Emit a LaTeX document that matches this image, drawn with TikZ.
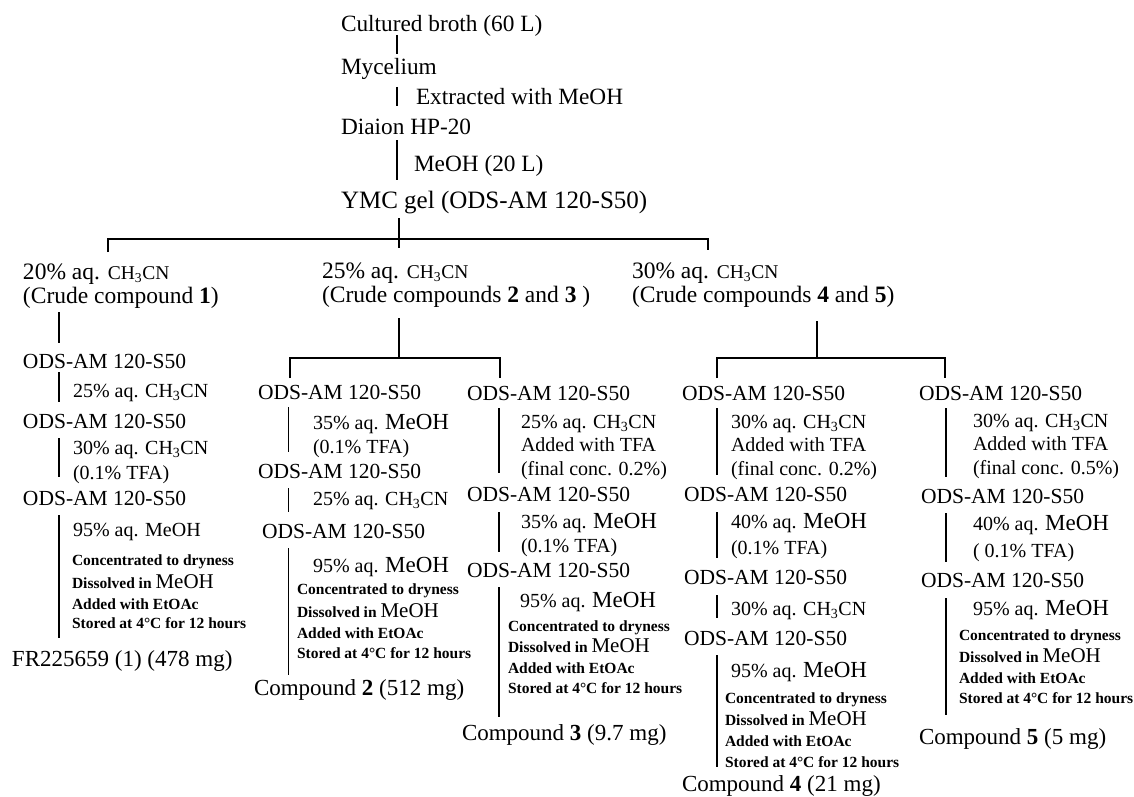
\documentclass[tikz,border=0pt]{standalone}
\usepackage{fontspec}
\setmainfont{Liberation Serif}
\usetikzlibrary{calc}
\newcommand\szTop{\fontsize{23.3}{26}\selectfont}
\newcommand\szYMC{\fontsize{25}{28}\selectfont}
\newcommand\szHead{\fontsize{23.5}{26}\selectfont}
\newcommand\szODS{\fontsize{21.5}{24}\selectfont}
\newcommand\szLab{\fontsize{20}{23}\selectfont}
\newcommand\szSmall{\fontsize{15.5}{18}\selectfont\bfseries}
\newcommand\szCmp{\fontsize{23}{26}\selectfont}
\newcommand\chcn{CH\textsubscript{3}CN}
\newcommand\hchcn{{\fontsize{19.5}{22}\selectfont CH\textsubscript{3}CN}}
\newcommand\bigmeoh{{\fontsize{23}{26}\selectfont MeOH}}
\newcommand\smeoh{{\mdseries\fontsize{21}{24}\selectfont MeOH}}
\newcommand\vlink[5]{\draw[conn] ($(#1.base -| #3)+(0,#4)$) -- ($(#2.base -| #3)+(0,-#5)$);}
\begin{document}
\begin{tikzpicture}[x=1pt,y=-1pt,
  txt/.style={anchor=base west,inner sep=0pt,outer sep=0pt},
  conn/.style={line width=1.7pt},
  brk/.style={line width=2pt}]
\fill[white] (0,0) rectangle (1134,797);
\useasboundingbox (0,0) rectangle (1134,797);
% column x positions
\coordinate (X0) at (397,0);
\coordinate (X1) at (59,0);
\coordinate (X2) at (288.5,0);
\coordinate (X3) at (499,0);
\coordinate (X4) at (717,0);
\coordinate (X5) at (946,0);
% ---------- top ----------
\node[txt] (cb) at (341,32) {\szTop Cultured broth (60 L)};
\node[txt] (my) at (341,75) {\szTop Mycelium};
\node[txt] (ex) at (416,105) {\szTop Extracted with MeOH};
\node[txt] (di) at (341,134) {\szTop Diaion HP-20};
\node[txt] (me) at (414,171) {\szTop MeOH (20 L)};
\node[txt] (ymc) at (341,208) {\szYMC YMC gel (ODS-AM 120-S50)};
\vlink{cb}{my}{X0}{3}{21}
\vlink{my}{di}{X0}{12}{28}
\vlink{di}{ymc}{X0}{6}{28}
% main bracket
\coordinate (b0c) at (399,248);
\coordinate (b0l) at (108,252);
\coordinate (b0L) at (108,239);
\coordinate (b0R) at (708,239);
\coordinate (b0r) at (708,250);
\draw[conn] ($(ymc.base -| b0c)+(0,10)$) -- (b0c);
\draw[brk] (b0l) -- (b0L) -- (b0R) -- (b0r);
% ---------- heads ----------
\node[txt] (h1a) at (23,279) {\szHead 20\% aq. \hchcn};
\node[txt] (h1b) at (23,303) {\szHead (Crude compound \textbf{1})};
\node[txt] (h2a) at (322,278) {\szHead 25\% aq. \hchcn};
\node[txt] (h2b) at (322,302) {\szHead (Crude compounds \textbf{2} and \textbf{3} )};
\node[txt] (h3a) at (632,278) {\szHead 30\% aq. \hchcn};
\node[txt] (h3b) at (632,302) {\szHead (Crude compounds \textbf{4} and \textbf{5})};
% ---------- column 1 ----------
\node[txt] (o11) at (23,368) {\szODS ODS-AM 120-S50};
\node[txt] (l11) at (73,397) {\szLab 25\% aq. \chcn};
\node[txt] (o12) at (23,428) {\szODS ODS-AM 120-S50};
\node[txt] (l12a) at (73,454) {\szLab 30\% aq. \chcn};
\node[txt] (l12b) at (73,479) {\szLab (0.1\% TFA)};
\node[txt] (o13) at (23,505) {\szODS ODS-AM 120-S50};
\node[txt] (l13) at (73,536) {\szLab 95\% aq. MeOH};
\node[txt] (s1a) at (72,565) {\szSmall Concentrated to dryness};
\node[txt] (s1b) at (72,588) {\szSmall Dissolved in \smeoh};
\node[txt] (s1c) at (72,609) {\szSmall Added with EtOAc};
\node[txt] (s1d) at (72,628) {\szSmall Stored at 4°C for 12 hours};
\node[txt] (f1) at (12,666) {\szCmp FR225659 (1) (478 mg)};
\vlink{h1b}{o11}{X1}{9}{25}
\vlink{o11}{o12}{X1}{4}{26}
\vlink{o12}{o13}{X1}{10}{28}
\vlink{o13}{f1}{X1}{10}{28}
% ---------- column 2/3 bracket ----------
\coordinate (b2c) at (399,358);
\coordinate (b2l) at (290,378);
\coordinate (b2L) at (290,357.5);
\coordinate (b2R) at (500,357.5);
\coordinate (b2r) at (500,378);
\draw[conn] ($(h2b.base -| b2c)+(0,16)$) -- (b2c);
\draw[brk] (b2l) -- (b2L) -- (b2R) -- (b2r);
% ---------- column 2 ----------
\node[txt] (o21) at (258,399) {\szODS ODS-AM 120-S50};
\node[txt] (l21a) at (313,429) {\szLab 35\% aq. \bigmeoh};
\node[txt] (l21b) at (313,453) {\szLab (0.1\% TFA)};
\node[txt] (o22) at (258,478) {\szODS ODS-AM 120-S50};
\node[txt] (l22) at (313,505) {\szLab 25\% aq. \chcn};
\node[txt] (o23) at (262,538) {\szODS ODS-AM 120-S50};
\node[txt] (l23) at (313,572) {\szLab 95\% aq. \bigmeoh};
\node[txt] (s2a) at (297,594) {\szSmall Concentrated to dryness};
\node[txt] (s2b) at (297,617) {\szSmall Dissolved in \smeoh};
\node[txt] (s2c) at (297,638) {\szSmall Added with EtOAc};
\node[txt] (s2d) at (297,658) {\szSmall Stored at 4°C for 12 hours};
\node[txt] (c2) at (254,695) {\szCmp Compound \textbf{2} (512 mg)};
\vlink{o21}{o22}{X2}{8}{26}
\vlink{o22}{o23}{X2}{10}{26}
\vlink{o23}{c2}{X2}{10}{20}
% ---------- column 3 ----------
\node[txt] (o31) at (467,400) {\szODS ODS-AM 120-S50};
\node[txt] (l31a) at (521,428) {\szLab 25\% aq. \chcn};
\node[txt] (l31b) at (521,451) {\szLab Added with TFA};
\node[txt] (l31c) at (521,475) {\szLab (final conc. 0.2\%)};
\node[txt] (o32) at (467,501) {\szODS ODS-AM 120-S50};
\node[txt] (l32a) at (521,528) {\szLab 35\% aq. \bigmeoh};
\node[txt] (l32b) at (521,552) {\szLab (0.1\% TFA)};
\node[txt] (o33) at (467,577) {\szODS ODS-AM 120-S50};
\node[txt] (l33) at (520,607) {\szLab 95\% aq. \bigmeoh};
\node[txt] (s3a) at (508,631) {\szSmall Concentrated to dryness};
\node[txt] (s3b) at (508,652) {\szSmall Dissolved in \smeoh};
\node[txt] (s3c) at (508,673) {\szSmall Added with EtOAc};
\node[txt] (s3d) at (508,693) {\szSmall Stored at 4°C for 12 hours};
\node[txt] (c3) at (462,740) {\szCmp Compound \textbf{3} (9.7 mg)};
\vlink{o31}{o32}{X3}{8}{28}
\vlink{o32}{o33}{X3}{11}{25}
\vlink{o33}{c3}{X3}{10}{23}
% ---------- column 4/5 bracket ----------
\coordinate (b4c) at (817,358);
\coordinate (b4l) at (717,378);
\coordinate (b4L) at (717,358);
\coordinate (b4R) at (945,358);
\coordinate (b4r) at (945,378);
\draw[conn] ($(h3b.base -| b4c)+(0,19)$) -- (b4c);
\draw[brk] (b4l) -- (b4L) -- (b4R) -- (b4r);
% ---------- column 4 ----------
\node[txt] (o41) at (682,400) {\szODS ODS-AM 120-S50};
\node[txt] (l41a) at (731,428) {\szLab 30\% aq. \chcn};
\node[txt] (l41b) at (731,451) {\szLab Added with TFA};
\node[txt] (l41c) at (731,475) {\szLab (final conc. 0.2\%)};
\node[txt] (o42) at (684,501) {\szODS ODS-AM 120-S50};
\node[txt] (l42a) at (731,528) {\szLab 40\% aq. \bigmeoh};
\node[txt] (l42b) at (731,554) {\szLab (0.1\% TFA)};
\node[txt] (o43) at (684,584) {\szODS ODS-AM 120-S50};
\node[txt] (l43) at (731,615) {\szLab 30\% aq. \chcn};
\node[txt] (o44) at (684,645) {\szODS ODS-AM 120-S50};
\node[txt] (l44) at (731,677) {\szLab 95\% aq. \bigmeoh};
\node[txt] (s4a) at (725,703) {\szSmall Concentrated to dryness};
\node[txt] (s4b) at (725,725) {\szSmall Dissolved in \smeoh};
\node[txt] (s4c) at (725,746) {\szSmall Added with EtOAc};
\node[txt] (s4d) at (725,767) {\szSmall Stored at 4°C for 12 hours};
\node[txt] (c4) at (682,791) {\szCmp Compound \textbf{4} (21 mg)};
\vlink{o41}{o42}{X4}{8}{26}
\vlink{o42}{o43}{X4}{11}{26}
\vlink{o43}{o44}{X4}{11}{27}
\vlink{o44}{c4}{X4}{10}{24}
% ---------- column 5 ----------
\node[txt] (o51) at (919,400) {\szODS ODS-AM 120-S50};
\node[txt] (l51a) at (973,427) {\szLab 30\% aq. \chcn};
\node[txt] (l51b) at (973,450) {\szLab Added with TFA};
\node[txt] (l51c) at (973,474) {\szLab (final conc. 0.5\%)};
\node[txt] (o52) at (921,503) {\szODS ODS-AM 120-S50};
\node[txt] (l52a) at (973,530) {\szLab 40\% aq. \bigmeoh};
\node[txt] (l52b) at (973,557) {\szLab ( 0.1\% TFA)};
\node[txt] (o53) at (921,587) {\szODS ODS-AM 120-S50};
\node[txt] (l53) at (973,615) {\szLab 95\% aq. \bigmeoh};
\node[txt] (s5a) at (959,640) {\szSmall Concentrated to dryness};
\node[txt] (s5b) at (959,662) {\szSmall Dissolved in \smeoh};
\node[txt] (s5c) at (959,683) {\szSmall Added with EtOAc};
\node[txt] (s5d) at (959,703) {\szSmall Stored at 4°C for 12 hours};
\node[txt] (c5) at (919,744) {\szCmp Compound \textbf{5} (5 mg)};
\vlink{o51}{o52}{X5}{8}{26}
\vlink{o52}{o53}{X5}{10}{25}
\vlink{o53}{c5}{X5}{11}{29}
\end{tikzpicture}
\end{document}
